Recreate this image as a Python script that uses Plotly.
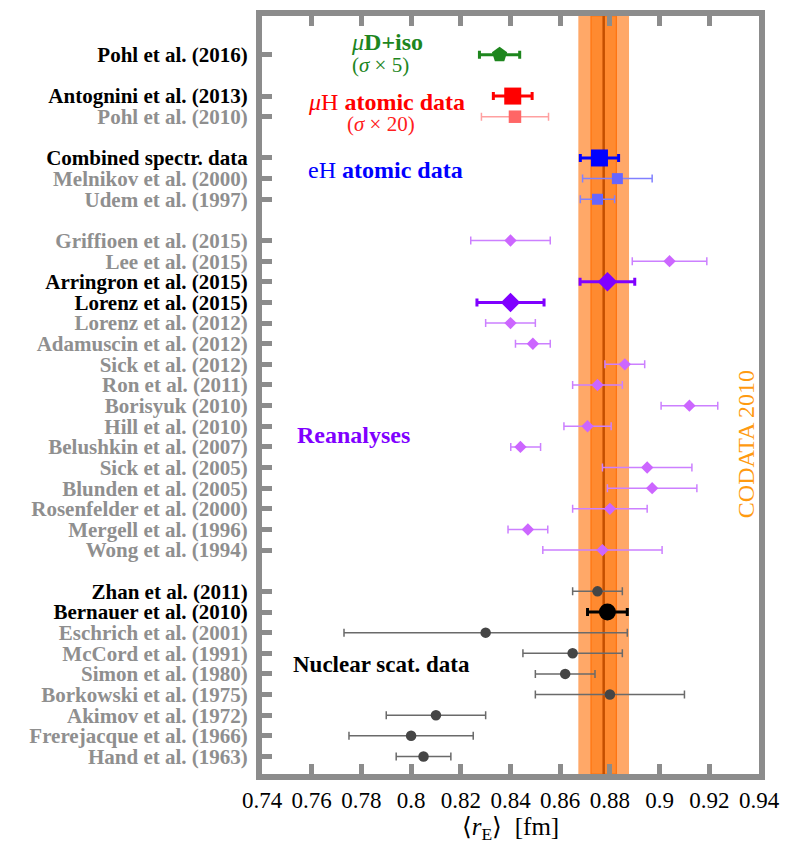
import plotly.graph_objects as go

# ---------------- data ----------------
muD_names = ["Pohl et al. (2016)"]
muD_vals = [0.8356]
muD_ep = [0.0081]
muD_em = [0.0081]
muD_label_dark = [True]
muD_emph = [True]

muH_names = ["Antognini et al. (2013)", "Pohl et al. (2010)"]
muH_vals = [0.8409, 0.8418]
muH_ep = [0.0078, 0.0135]
muH_em = [0.0078, 0.0135]
muH_label_dark = [True, False]
muH_emph = [True, False]

eH_names = ["Combined spectr. data", "Melnikov et al. (2000)", "Udem et al. (1997)"]
eH_vals = [0.8758, 0.8830, 0.8750]
eH_ep = [0.0077, 0.0140, 0.0069]
eH_em = [0.0077, 0.0140, 0.0069]
eH_label_dark = [True, False, False]
eH_emph = [True, False, False]

rean_names = ["Griffioen et al. (2015)", "Lee et al. (2015)", "Arringron et al. (2015)",
              "Lorenz et al. (2015)", "Lorenz et al. (2012)", "Adamuscin et al. (2012)",
              "Sick et al. (2012)", "Ron et al. (2011)", "Borisyuk (2010)", "Hill et al. (2010)",
              "Belushkin et al. (2007)", "Sick et al. (2005)", "Blunden et al. (2005)",
              "Rosenfelder et al. (2000)", "Mergell et al. (1996)", "Wong et al. (1994)"]
rean_vals = [0.840, 0.904, 0.879, 0.840, 0.840, 0.849, 0.886, 0.875, 0.912, 0.871,
             0.844, 0.895, 0.897, 0.880, 0.847, 0.877]
rean_ep = [0.016, 0.015, 0.011, 0.0135, 0.010, 0.007, 0.008, 0.010, 0.0114, 0.0095,
           0.0081, 0.018, 0.018, 0.015, 0.008, 0.024]
rean_em = [0.016, 0.015, 0.011, 0.0135, 0.010, 0.007, 0.008, 0.010, 0.0114, 0.0095,
           0.0039, 0.018, 0.018, 0.015, 0.008, 0.024]
rean_label_dark = [False, False, True, True, False, False, False, False, False, False,
                   False, False, False, False, False, False]
rean_emph = rean_label_dark

nuc_names = ["Zhan et al. (2011)", "Bernauer et al. (2010)", "Eschrich et al. (2001)",
             "McCord et al. (1991)", "Simon et al. (1980)", "Borkowski et al. (1975)",
             "Akimov et al. (1972)", "Frerejacque et al. (1966)", "Hand et al. (1963)"]
nuc_vals = [0.875, 0.879, 0.830, 0.865, 0.862, 0.880, 0.810, 0.800, 0.805]
nuc_ep = [0.010, 0.008, 0.057, 0.020, 0.012, 0.030, 0.020, 0.025, 0.011]
nuc_em = [0.010, 0.008, 0.057, 0.020, 0.012, 0.030, 0.020, 0.025, 0.011]
nuc_label_dark = [True, True, False, False, False, False, False, False, False]
nuc_emph = [False, True, False, False, False, False, False, False, False]

codata_value = 0.8775
codata_sigma = 0.0051

x_tick_vals = [0.74, 0.76, 0.78, 0.80, 0.82, 0.84, 0.86, 0.88, 0.90, 0.92, 0.94]
x_tick_text = ["0.74", "0.76", "0.78", "0.8", "0.82", "0.84", "0.86", "0.88", "0.9", "0.92", "0.94"]

# ---------------- styles ----------------
F = "Liberation Serif"
GRAY = "#8c8c8c"
LABEL_GRAY = "#8f8f8f"
groups = [
    dict(names=muD_names, vals=muD_vals, ep=muD_ep, em=muD_em, dark=muD_label_dark, emph=muD_emph,
         symbol="pentagon", c_em="#1e861e", c_lt="#5cb85c", bar_lt="#8fd08f", s_em=16, s_lt=11),
    dict(names=muH_names, vals=muH_vals, ep=muH_ep, em=muH_em, dark=muH_label_dark, emph=muH_emph,
         symbol="square", c_em="#ff0000", c_lt="#ff6666", bar_lt="#ffa0a0", s_em=17, s_lt=12.5),
    dict(names=eH_names, vals=eH_vals, ep=eH_ep, em=eH_em, dark=eH_label_dark, emph=eH_emph,
         symbol="square", c_em="#0000ff", c_lt="#6666ff", bar_lt="#8080ff", s_em=17, s_lt=11),
    dict(names=rean_names, vals=rean_vals, ep=rean_ep, em=rean_em, dark=rean_label_dark, emph=rean_emph,
         symbol="diamond", c_em="#8000ff", c_lt="#cc66ff", bar_lt="#cc80ff", s_em=15, s_lt=9.5),
    dict(names=nuc_names, vals=nuc_vals, ep=nuc_ep, em=nuc_em, dark=nuc_label_dark, emph=nuc_emph,
         symbol="circle", c_em="#000000", c_lt="#454545", bar_lt="#6a6a6a", s_em=17, s_lt=10.5),
]

fig = go.Figure()

# CODATA band
fig.add_shape(type="rect", xref="x", yref="paper", x0=codata_value - 2 * codata_sigma,
              x1=codata_value + 2 * codata_sigma, y0=0, y1=1, fillcolor="#ffa868",
              line_width=0, layer="below", opacity=1)
fig.add_shape(type="rect", xref="x", yref="paper", x0=codata_value - codata_sigma,
              x1=codata_value + codata_sigma, y0=0, y1=1, fillcolor="#ff8a30",
              line=dict(color="#ff7410", width=1.2), layer="below", opacity=1)
fig.add_shape(type="line", xref="x", yref="paper", x0=codata_value, x1=codata_value,
              y0=0, y1=1, line=dict(color="#c44f00", width=2.5), layer="below", opacity=1)

tick_vals, tick_text = [], []
y = 35
for gi, g in enumerate(groups):
    if gi > 0:
        y -= 1
    ys = []
    for n, d in zip(g["names"], g["dark"]):
        ys.append(y)
        tick_vals.append(y)
        col = "#000000" if d else LABEL_GRAY
        tick_text.append(f'<b><span style="color:{col}">{n}</span></b>')
        y -= 1
    for emph in (False, True):
        idx = [i for i, e in enumerate(g["emph"]) if e == emph]
        if not idx:
            continue
        fig.add_trace(go.Scatter(
            x=[g["vals"][i] for i in idx], y=[ys[i] for i in idx], mode="markers",
            marker=dict(symbol=g["symbol"], size=g["s_em"] if emph else g["s_lt"],
                        color=g["c_em"] if emph else g["c_lt"], line_width=0),
            error_x=dict(type="data", symmetric=False,
                         array=[g["ep"][i] for i in idx],
                         arrayminus=[g["em"][i] for i in idx],
                         color=g["c_em"] if emph else g["bar_lt"],
                         thickness=3 if emph else 1.5, width=4),
            showlegend=False, hoverinfo="x+y"))

ann = [
    dict(x=0.7902, y=35.60, text="<i>μ</i><b>D+iso</b>", color="#1e861e", size=24),
    dict(x=0.7877, y=34.50, text="(<i>σ</i> × 5)", color="#1e861e", size=21),
    dict(x=0.7899, y=32.72, text="<i>μ</i>H <b>atomic data</b>", color="#ff0000", size=24),
    dict(x=0.7879, y=31.66, text="(<i>σ</i> × 20)", color="#ff2020", size=21),
    dict(x=0.7896, y=29.44, text="eH <b>atomic data</b>", color="#0000ff", size=24),
    dict(x=0.7770, y=16.58, text="<b>Reanalyses</b>", color="#8000ff", size=24),
    dict(x=0.7880, y=5.46, text="<b>Nuclear scat. data</b>", color="#000000", size=23),
]
for a in ann:
    fig.add_annotation(x=a["x"], y=a["y"], xref="x", yref="y", text=a["text"], showarrow=False,
                       font=dict(family=F, size=a["size"], color=a["color"]),
                       xanchor="center", yanchor="middle")
fig.add_annotation(x=0.9345, y=16.15, xref="x", yref="y", text="CODATA 2010", showarrow=False,
                   textangle=-90, font=dict(family=F, size=24, color="#ff9a10"),
                   xanchor="center", yanchor="middle")

axis_common = dict(showline=True, linewidth=6, linecolor=GRAY, ticks="inside", ticklen=10,
                   tickwidth=5, tickcolor=GRAY, showgrid=False, zeroline=False)
fig.update_layout(
    width=790, height=852, margin=dict(l=262, r=23, t=10, b=78),
    paper_bgcolor="white", plot_bgcolor="white",
    font=dict(family=F, color="#000000", size=20),
    xaxis=dict(range=[0.74, 0.94], tickvals=x_tick_vals, ticktext=x_tick_text,
               mirror="ticks", tickfont=dict(family=F, size=23, color="#000000"),
               title=dict(text="⟨<i>r</i><sub>E</sub>⟩&nbsp;&nbsp;[fm]",
                          font=dict(family=F, size=25, color="#000000"), standoff=8),
               **axis_common),
    yaxis=dict(range=[0.15, 36.88], tickvals=tick_vals, ticktext=tick_text, mirror=True,
               tickfont=dict(family=F, size=21, color="#000000"), ticklabelstandoff=4,
               **axis_common),
)

fig.write_html("out.html")
